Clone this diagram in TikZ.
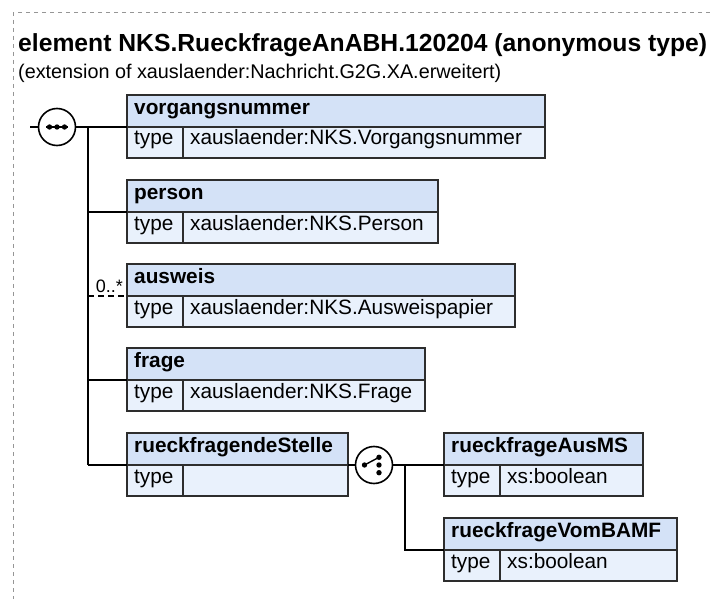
\documentclass[tikz,border=0pt]{standalone}
\usepackage{fontspec}
\setmainfont{Liberation Sans}
\definecolor{hdrfill}{RGB}{212,226,247}
\definecolor{rowfill}{RGB}{233,241,252}
\definecolor{boxline}{RGB}{45,45,45}
\definecolor{framecol}{RGB}{150,150,150}
\tikzset{
  cellbase/.style={draw=boxline, line width=1.3pt, outer sep=0pt, inner sep=0pt, anchor=north west},
  hdr/.style={cellbase, fill=hdrfill, minimum height=32pt},
  tcell/.style={cellbase, fill=rowfill, minimum height=31pt, minimum width=56pt},
  vcell/.style={cellbase, fill=rowfill, minimum height=31pt},
  hdrtext/.style={anchor=base west, inner sep=0pt, font=\bfseries\fontsize{20.8}{24}\selectfont},
  rowtext/.style={anchor=base west, inner sep=0pt, font=\fontsize{20.8}{24}\selectfont},
  conn/.style={line width=1.8pt, black},
  optconn/.style={conn, dash pattern=on 6pt off 4pt},
  compositor/.style={circle, draw=black, line width=1.6pt, fill=white, minimum size=37pt, inner sep=0pt, outer sep=0pt},
  frameline/.style={draw=framecol, line width=1pt, dash pattern=on 4pt off 4pt},
  dotmark/.style={fill=black},
}
% #1 name, #2 position, #3 total width, #4 value cell width (= #3 - 56), #5 name text, #6 type text
\newcommand{\elembox}[6]{%
  \node[hdr, minimum width=#3] (#1) at (#2) {};
  \node[tcell] (#1t) at (#1.south west) {};
  \node[vcell, minimum width=#4] (#1v) at (#1t.north east) {};
  \node[hdrtext] (#1n) at ([xshift=7pt,yshift=-19.5pt]#1.north west) {#5};
  \node[rowtext] (#1tt) at ([xshift=7pt,yshift=-18pt]#1t.north west) {type};
  \node[rowtext] (#1vt) at ([xshift=7pt,yshift=-18pt]#1v.north west) {#6};
}
\begin{document}
\begin{tikzpicture}[x=1pt, y=-1pt]
  \useasboundingbox (0,0) rectangle (710,599);
  % frame
  \draw[frameline] (710,13) -- (13,13) -- (13,599);
  % title
  \node[anchor=base west, inner sep=0pt, font=\bfseries\fontsize{24.7}{28}\selectfont] (title) at (18,51.5) {element NKS.RueckfrageAnABH.120204 (anonymous type)};
  \node[anchor=base west, inner sep=0pt, font=\fontsize{19.8}{23}\selectfont] (subtitle) at (18,78.5) {(extension of xauslaender:Nachricht.G2G.XA.erweitert)};

  % element boxes
  \elembox{vn}{127,95}{418pt}{362pt}{vorgangsnummer}{xauslaender:NKS.Vorgangsnummer}
  \elembox{pe}{127,180}{311pt}{255pt}{person}{xauslaender:NKS.Person}
  \elembox{aw}{127,264}{388pt}{332pt}{ausweis}{xauslaender:NKS.Ausweispapier}
  \elembox{fr}{127,348}{298pt}{242pt}{frage}{xauslaender:NKS.Frage}
  \elembox{rs}{127,433}{221pt}{165pt}{rueckfragendeStelle}{}
  \elembox{ms}{444,433}{199pt}{143pt}{rueckfrageAusMS}{xs:boolean}
  \elembox{ba}{444,518}{233pt}{177pt}{rueckfrageVomBAMF}{xs:boolean}

  % sequence compositor
  \node[compositor] (seq) at (57,127) {};
  \coordinate (in) at (30,127);
  \coordinate (trunk) at (88,127);
  \draw[conn] (in) -- (seq.west);
  \draw[conn] (seq.east) -- (vn.south west);
  \draw[line width=1.4pt] ([xshift=-11pt]seq.center) -- ([xshift=11pt]seq.center);
  \fill[dotmark] ([xshift=-7.5pt]seq.center) circle (2.7pt);
  \fill[dotmark] (seq.center) circle (2.7pt);
  \fill[dotmark] ([xshift=7.5pt]seq.center) circle (2.7pt);

  \draw[conn] (trunk) -- (trunk |- rs.south west);
  \draw[conn] (trunk |- pe.south west) -- (pe.south west);
  \draw[optconn] (trunk |- aw.south west) -- (aw.south west);
  \draw[conn] (trunk |- fr.south west) -- (fr.south west);
  \draw[conn] (trunk |- rs.south west) -- (rs.south west);
  \node[anchor=base east, inner sep=0pt, font=\fontsize{18}{20}\selectfont] (mult) at (123,292) {0..*};

  % choice compositor
  \node[compositor] (ch) at (374,465) {};
  \draw[conn] (rs.south east) -- (ch.west);
  \draw[conn] (ch.east) -- (ms.south west);
  \coordinate (br) at (405,465);
  \draw[conn] (br) |- (ba.south west);
  \draw[line width=1.4pt] ([xshift=-9.5pt]ch.center) -- ([xshift=5pt,yshift=7.7pt]ch.center);
  \fill[dotmark] ([xshift=-9.5pt]ch.center) circle (2.7pt);
  \fill[dotmark] ([xshift=5pt,yshift=7.7pt]ch.center) circle (2.7pt);
  \fill[dotmark] ([xshift=5pt]ch.center) circle (2.7pt);
  \fill[dotmark] ([xshift=5pt,yshift=-7.7pt]ch.center) circle (2.7pt);
\end{tikzpicture}
\end{document}
